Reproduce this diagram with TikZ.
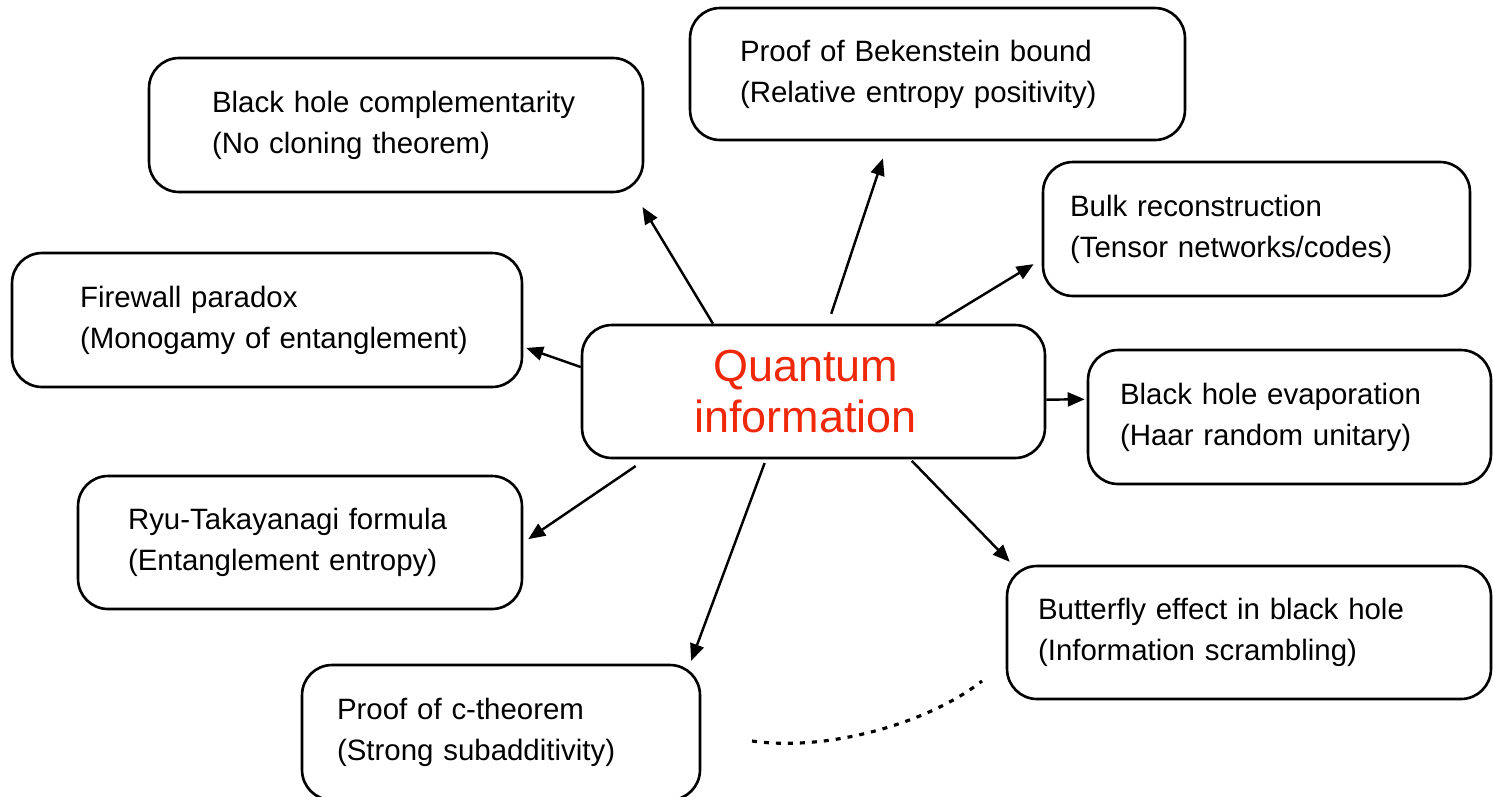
\documentclass[tikz,border=0pt]{standalone}
\usepackage{fontspec}
\setmainfont{Liberation Sans}
\usepackage{tikz}
\usetikzlibrary{arrows.meta}
\definecolor{qired}{RGB}{240,40,10}
\newcommand{\boxfont}{\fontsize{16.75}{23.3}\selectfont}
\newcommand{\qifont}{\fontsize{25.6}{28.8}\selectfont}

\begin{document}
\begin{tikzpicture}[x=0.02cm,y=-0.02cm,
  box/.style={draw,rounded corners=0.6cm,line width=1.5pt,inner xsep=0pt,
    align=left,minimum height=2.68cm,font=\boxfont},
  lpad/.style={execute at begin node={\leftskip=#1}},
  arr/.style={-{Triangle[length=0.34cm,width=0.28cm]},line width=1.4pt},
  dotline/.style={line width=1.8pt,dash pattern=on 0.1cm off 0.14cm}
]
\useasboundingbox (0,0) rectangle (1493,796);

\node[box,text width=9.26cm,align=center,font=\qifont,text=qired,minimum height=2.66cm,
  execute at begin node={\leftskip=0pt plus 1fil\rightskip=0.32cm plus 1fil\parfillskip=0pt}]
  (qi) at (813.5,391.5) {Quantum\\information};

\node[box,text width=9.88cm,lpad=1.26cm]
  (bhc) at (396,125) {Black hole complementarity\\(No cloning theorem)};
\node[box,text width=9.9cm,lpad=1.0cm,minimum height=2.64cm]
  (bek) at (937.5,74) {Proof of Bekenstein bound\\(Relative entropy positivity)};
\node[box,text width=8.54cm,lpad=0.54cm]
  (bulk) at (1256.5,229) {Bulk reconstruction\\(Tensor networks/codes)};
\node[box,text width=10.2cm,lpad=1.36cm]
  (fire) at (267,320) {Firewall paradox\\(Monogamy of entanglement)};
\node[box,text width=8.06cm,lpad=0.64cm]
  (evap) at (1289.5,417) {Black hole evaporation\\(Haar random unitary)};
\node[box,text width=8.88cm,lpad=1.0cm,minimum height=2.66cm]
  (ryu) at (300,542.5) {Ryu-Takayanagi formula\\(Entanglement entropy)};
\node[box,text width=9.68cm,lpad=0.62cm,minimum height=2.66cm]
  (bfly) at (1249,632.5) {Butterfly effect in black hole\\(Information scrambling)};
\node[box,text width=7.96cm,lpad=0.7cm,minimum height=2.7cm]
  (cth) at (501,732.5) {Proof of c-theorem\\(Strong subadditivity)};

\draw[arr,shorten >=0.32cm] (qi.146.5) -- (bhc.-16.8);
\draw[arr,shorten <=0.21cm,shorten >=0.36cm] (qi.78.9) -- (bek.-126.5);
\draw[arr,shorten >=0.19cm] (qi.29.3) -- (bulk.-172.2);
\draw[arr,shorten >=0.06cm] (qi.174.7) -- (fire.-6);
\draw[arr,shorten >=0.04cm] (qi.-2.6) -- (evap.175.7);
\draw[arr,shorten <=0.24cm,shorten >=0.12cm] (qi.-158.2) -- (ryu.-0.8);
\draw[arr,shorten <=0.08cm,shorten >=0.06cm] (qi.-125.2) -- (cth.20.4);
\draw[arr,shorten <=0.04cm,shorten >=0.08cm] (qi.-35.1) -- (bfly.164.1);

\coordinate (dotL) at (752,741);
\coordinate (dotR) at (982,681);
\draw[dotline] (dotL) .. controls (830,752) and (930,722) .. (dotR);
\end{tikzpicture}
\end{document}
